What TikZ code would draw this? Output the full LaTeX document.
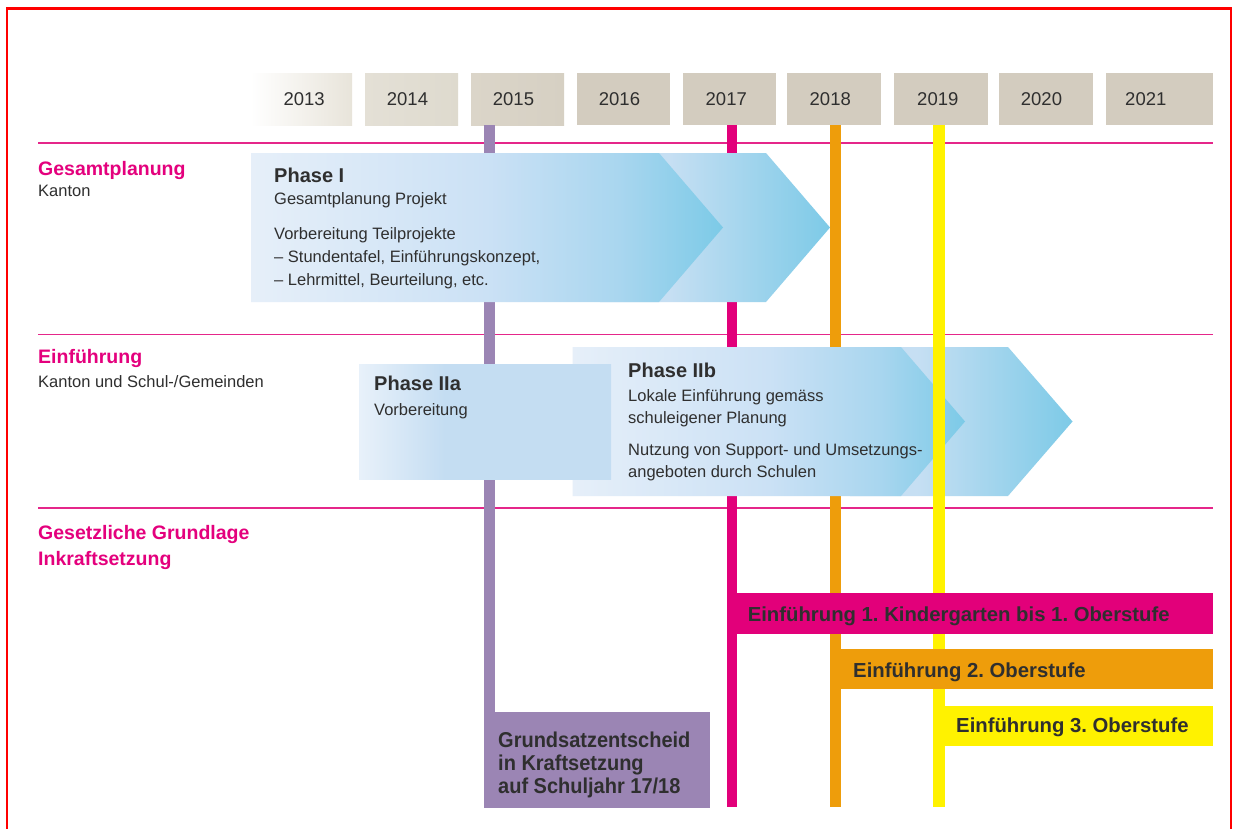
\documentclass[tikz,border=0pt]{standalone}
\usepackage{fontspec}
\setmainfont{Liberation Sans}
\newfontfamily\condfont{Liberation Sans}[FakeStretch=0.93]
\frenchspacing
\definecolor{txt}{HTML}{2F2F2F}
\definecolor{pinkt}{HTML}{E4007D}
\definecolor{pinkline}{HTML}{E5268A}
\definecolor{magbar}{HTML}{E2007A}
\definecolor{orgbar}{HTML}{EE9D0B}
\definecolor{yelbar}{HTML}{FFF200}
\definecolor{purbar}{HTML}{9B85B4}
\definecolor{yrA}{HTML}{E8E4DA}
\definecolor{yrB1}{HTML}{E4E0D6}
\definecolor{yrB2}{HTML}{DEDACE}
\definecolor{yrC1}{HTML}{DBD5C9}
\definecolor{yrC2}{HTML}{D6D0C3}
\definecolor{yrD}{HTML}{D3CCBF}
\definecolor{frA}{HTML}{E6EFF9}
\definecolor{frB}{HTML}{CBE1F5}
\definecolor{frC}{HTML}{A9D6EF}
\definecolor{frD}{HTML}{7CCAE7}
\definecolor{bkA}{HTML}{C6DFF3}
\definecolor{bkD}{HTML}{7DCAE7}
\definecolor{iaA}{HTML}{E8F1FA}
\definecolor{iaB}{HTML}{C4DDF2}
\pgfdeclarehorizontalshading{frontsh}{100bp}{color(0bp)=(frA); color(25bp)=(frA); color(50bp)=(frB); color(64bp)=(frC); color(75bp)=(frD); color(100bp)=(frD)}
\pgfdeclarehorizontalshading{backsh}{100bp}{color(0bp)=(bkA); color(25bp)=(bkA); color(40bp)=(bkA); color(75bp)=(bkD); color(100bp)=(bkD)}
\pgfdeclarehorizontalshading{iash}{100bp}{color(0bp)=(iaA); color(25bp)=(iaA); color(42bp)=(iaB); color(75bp)=(iaB); color(100bp)=(iaB)}
\tikzset{
  yearbox/.style={draw=none, inner sep=0pt, anchor=north west, minimum height=52pt},
  yearlbl/.style={font=\fontsize{18.5}{20}\selectfont, text=txt, inner sep=0pt, anchor=west},
  bodytxt/.style={font=\fontsize{16.5}{20}\selectfont, text=txt, inner sep=0pt, anchor=base west},
  phasetitle/.style={font=\bfseries\fontsize{20}{22}\selectfont, text=txt, inner sep=0pt, anchor=base west},
  rowtitle/.style={font=\bfseries\fontsize{19.5}{22}\selectfont, text=pinkt, inner sep=0pt, anchor=base west},
  bartxt/.style={font=\bfseries\fontsize{20.3}{22}\selectfont, text=txt, inner sep=0pt, anchor=base west},
  decisiontxt/.style={font=\condfont\bfseries\fontsize{21.5}{23}\selectfont, text=txt, inner sep=0pt, anchor=base west},
  sepline/.style={draw=pinkline, line width=1.6pt},
  frameline/.style={draw=red, line width=2.8pt, line join=miter}
}
\begin{document}
\begin{tikzpicture}[x=1pt,y=-1pt]
\useasboundingbox (0,0) rectangle (1233,828);
\fill[white] (0,0) rectangle (1233,828);

% year boxes
\node[yearbox, minimum width=102pt, left color=white, right color=yrA] (b2013) at (250,73) {};
\node[yearbox, minimum width=93pt, left color=yrB1, right color=yrB2] (b2014) at (365,73) {};
\node[yearbox, minimum width=93pt, left color=yrC1, right color=yrC2] (b2015) at (471,73) {};
\node[yearbox, minimum width=93pt, fill=yrD] (b2016) at (577,73) {};
\node[yearbox, minimum width=93pt, fill=yrD] (b2017) at (683,73) {};
\node[yearbox, minimum width=94pt, fill=yrD] (b2018) at (787,73) {};
\node[yearbox, minimum width=94pt, fill=yrD] (b2019) at (894,73) {};
\node[yearbox, minimum width=94pt, fill=yrD] (b2020) at (999,73) {};
\node[yearbox, minimum width=107pt, fill=yrD] (b2021) at (1106,73) {};
\node[yearlbl] (t2013) at ([xshift=33.3pt]b2013.west) {2013};
\node[yearlbl] (t2014) at ([xshift=21.7pt]b2014.west) {2014};
\node[yearlbl] (t2015) at ([xshift=21.7pt]b2015.west) {2015};
\node[yearlbl] (t2016) at ([xshift=21.7pt]b2016.west) {2016};
\node[yearlbl] (t2017) at ([xshift=22.5pt]b2017.west) {2017};
\node[yearlbl] (t2018) at ([xshift=22.5pt]b2018.west) {2018};
\node[yearlbl] (t2019) at ([xshift=23pt]b2019.west) {2019};
\node[yearlbl] (t2020) at ([xshift=21.7pt]b2020.west) {2020};
\node[yearlbl] (t2021) at ([xshift=19pt]b2021.west) {2021};

% separator lines
\draw[sepline] (38,143) -- (1213,143);
\draw[sepline] (38,334.5) -- (1213,334.5);
\draw[sepline] (38,508) -- (1213,508);

% vertical year markers
\fill[purbar] (484,125) rectangle (495,712);
\fill[magbar] (727,125) rectangle (737,807);
\fill[orgbar] (830,125) rectangle (841,807);

% Phase I arrows
\shade[shading=backsh] (600,153) -- (766,153) -- (830,227.5) -- (766,302) -- (600,302) -- cycle;
\shade[shading=frontsh] (251,153) -- (659,153) -- (723,227.5) -- (659,302) -- (251,302) -- cycle;

% Phase IIb arrows
\shade[shading=backsh] (850,347) -- (1008,347) -- (1072.5,421.5) -- (1008,496) -- (850,496) -- cycle;
\shade[shading=frontsh] (572.5,347) -- (901,347) -- (965,421.5) -- (901,496) -- (572.5,496) -- cycle;

% Phase IIa box
\shade[shading=iash] (359,364) rectangle (611,479);

% yellow marker on top
\fill[yelbar] (933,125) rectangle (945,807);

% bars
\fill[magbar] (727,593) rectangle (1213,634);
\fill[orgbar] (830,649) rectangle (1213,689);
\fill[yelbar] (933,706) rectangle (1213,746);
\fill[purbar] (484,712) rectangle (710,808);

% row titles
\node[rowtitle] (r1) at (38,175) {Gesamtplanung};
\node[bodytxt] (r1s) at (38,196) {Kanton};
\node[rowtitle] (r2) at (38,363) {Einführung};
\node[bodytxt] (r2s) at (38,387) {Kanton und Schul-/Gemeinden};
\node[rowtitle] (r3) at (38,539) {Gesetzliche Grundlage};
\node[rowtitle] (r3b) at (38,565) {Inkraftsetzung};

% Phase I text
\node[phasetitle] (p1) at (274,182) {Phase I};
\node[bodytxt] (p1a) at (274,204) {Gesamtplanung Projekt};
\node[bodytxt] (p1b) at (274,239.5) {Vorbereitung Teilprojekte};
\node[bodytxt] (p1c) at (274,262.5) {– Stundentafel, Einführungskonzept,};
\node[bodytxt] (p1d) at (274,285.5) {– Lehrmittel, Beurteilung, etc.};

% Phase IIa text
\node[phasetitle] (p2a) at (374,390) {Phase IIa};
\node[bodytxt] (p2a1) at (374,415) {Vorbereitung};

% Phase IIb text
\node[phasetitle] (p2b) at (628,377) {Phase IIb};
\node[bodytxt] (p2b1) at (628,401) {Lokale Einführung gemäss};
\node[bodytxt] (p2b2) at (628,423) {schuleigener Planung};
\node[bodytxt] (p2b3) at (628,455.5) {Nutzung von Support- und Umsetzungs-};
\node[bodytxt] (p2b4) at (628,477.5) {angeboten durch Schulen};

% bar texts
\node[bartxt] (e1) at (747.6,621) {Einführung 1. Kindergarten bis 1. Oberstufe};
\node[bartxt] (e2) at (853,677) {Einführung 2. Oberstufe};
\node[bartxt] (e3) at (956,732) {Einführung 3. Oberstufe};

% decision box text
\node[decisiontxt] (d1) at (498,747) {Grundsatzentscheid};
\node[decisiontxt] (d2) at (498,770.5) {in Kraftsetzung};
\node[decisiontxt] (d3) at (498,793.5) {auf Schuljahr 17/18};

% red frame
\draw[frameline] (7,840) -- (7,8.3) -- (1231,8.3) -- (1231,840);
\end{tikzpicture}
\end{document}
